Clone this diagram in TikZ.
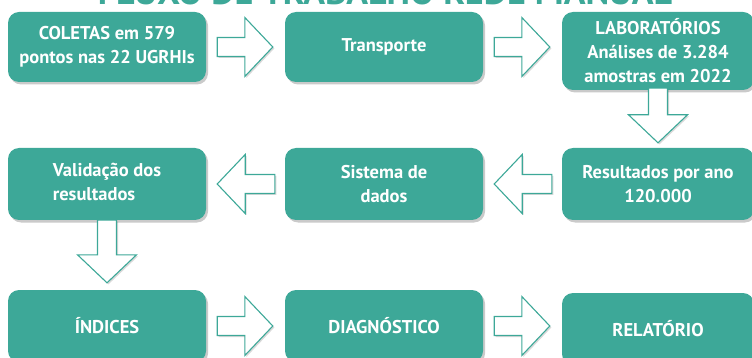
\documentclass[tikz,border=0pt]{standalone}
\usepackage{fontspec}
\setmainfont{PT Sans}
\usetikzlibrary{calc,positioning,shadows}

\definecolor{verde}{RGB}{61,168,152}

\tikzset{
  caixa/.style={draw=none, fill=verde, rounded corners=11pt, text=white,
    font=\bfseries\fontsize{18.5}{24}\selectfont, align=center, inner sep=0pt,
    minimum width=198pt, minimum height=70pt,
    drop shadow={shadow xshift=2pt, shadow yshift=-2.5pt, opacity=0.35, fill=black!60}},
  flecha/.style={draw=verde, fill=white, line width=1.1pt, line join=miter,
    drop shadow={shadow xshift=1.5pt, shadow yshift=-1.5pt, opacity=0.25, fill=black!60}}
}

% seta de bloco entre duas coordenadas
\newcommand{\flecha}[2]{%
  \coordinate (b) at ($(#2)!\head pt!(#1)$);
  \draw[flecha] ($(#1)!\shaft pt!90:(b)$) -- ($(b)!\shaft pt!-90:(#1)$)
    -- ($(b)!\alto pt!-90:(#1)$) -- (#2) -- ($(b)!\alto pt!90:(#1)$)
    -- ($(b)!\shaft pt!90:(#1)$) -- ($(#1)!\shaft pt!-90:(b)$) -- cycle;
}

\begin{document}
\begin{tikzpicture}[x=1pt,y=1pt]
    \pgfmathsetmacro{\head}{28}
    \pgfmathsetmacro{\shaft}{9.5}
    \pgfmathsetmacro{\alto}{29.5}

    \useasboundingbox (0,0) rectangle (752,-358);

    % titulo (cortado no topo)
    \node[text=verde, font=\bfseries\fontsize{36}{36}\selectfont, anchor=base] (tit) at (385,-4.5) {FLUXO DE TRABALHO REDE MANUAL};

    % linha 1
    \node[caixa] (col) at (107,-47) {COLETAS em 579\\pontos nas 22 UGRHIs};
    \node[caixa] (tra) at (384,-47) {Transporte};
    \node[caixa, minimum width=192pt, minimum height=78pt] (lab) at (658,-51) {LABORATÓRIOS\\Análises de 3.284\\amostras em 2022};
    % linha 2
    \node[caixa, minimum height=72pt] (val) at (107,-184) {\begin{tabular}{@{}l@{}}Validação dos\\resultados\end{tabular}};
    \node[caixa, minimum height=72pt] (sis) at (384,-184) {Sistema de\\dados};
    \node[caixa, minimum width=192pt, minimum height=72pt] (res) at (658,-184) {Resultados por ano\\120.000};
    % linha 3
    \node[caixa, minimum height=72pt] (ind) at (107,-326) {ÍNDICES};
    \node[caixa, minimum height=72pt] (dia) at (384,-326) {DIAGNÓSTICO};
    \node[caixa, minimum width=192pt, minimum height=72pt] (rel) at (658,-329) {RELATÓRIO};

    % setas
    \coordinate (s1) at ([xshift=11pt]col.east);
    \coordinate (e1) at ([xshift=-12pt]tra.west);
    \coordinate (s2) at ([xshift=11pt]tra.east);
    \coordinate (e2) at ([xshift=-12pt]tra.east -| lab.west);
    \coordinate (s3) at ([yshift=2pt]lab.south);
    \coordinate (e3) at ([yshift=5pt]res.north);
    \coordinate (s4) at ([xshift=-10pt]res.west);
    \coordinate (e4) at ([xshift=11pt]sis.east);
    \coordinate (s5) at ([xshift=-10pt]sis.west);
    \coordinate (e5) at ([xshift=11pt]val.east);
    \coordinate (s6) at (val.south);
    \coordinate (e6) at ([yshift=7pt]ind.north);
    \coordinate (s7) at ([xshift=11pt]ind.east);
    \coordinate (e7) at ([xshift=-12pt]dia.west);
    \coordinate (s8) at ([xshift=11pt]dia.east);
    \coordinate (e8) at ([xshift=-12pt]dia.east -| rel.west);
    \foreach \i in {1,...,8} {\flecha{s\i}{e\i}}
\end{tikzpicture}
\end{document}
